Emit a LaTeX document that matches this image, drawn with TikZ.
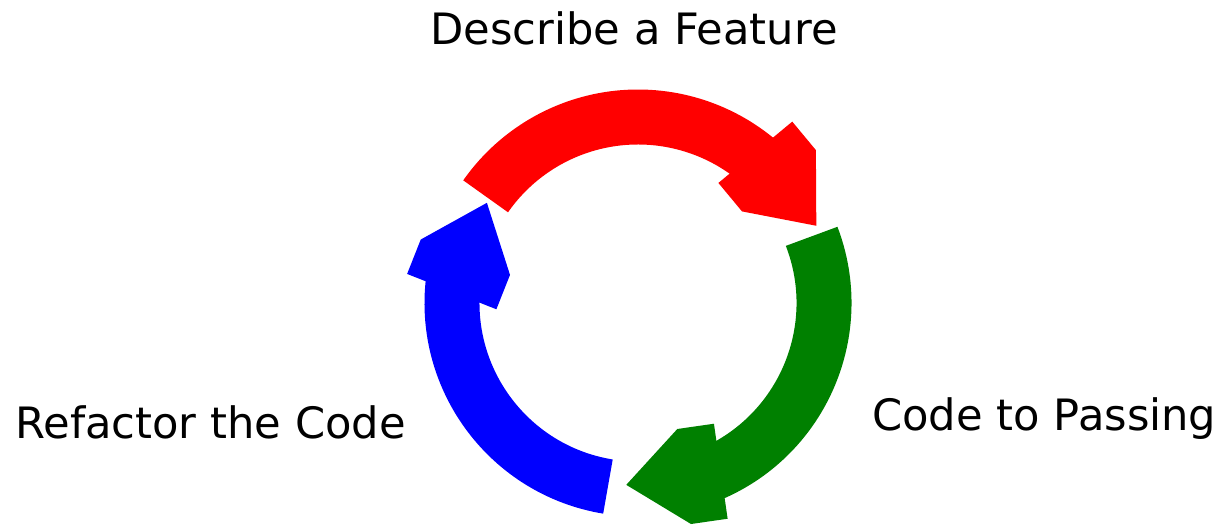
\documentclass[tikz,border=0pt]{standalone}
\usepackage{fontspec}
\setmainfont{DejaVu Sans}
\definecolor{passgreen}{RGB}{0,128,0}
\tikzset{
  cyclebody/.style={line width=1.1cm},
  steplabel/.style={inner sep=0pt, font=\fontsize{24.6}{29}\selectfont},
}

\begin{document}
\begin{tikzpicture}[x=0.02cm, y=0.02cm]
    \useasboundingbox (-638,-221) rectangle (592,303);
    % describe
    \draw[cyclebody, red] (145:186) arc[start angle=145, end angle=49.5, radius=186];
    \fill[red, shift={(52.1:191)}, rotate=-50.3]
      (0,48) -- (37,48) -- (95.5,0) -- (37,-48) -- (0,-48) -- cycle;
    % passing
    \draw[cyclebody, passgreen] (21:186) arc[start angle=21, end angle=-67, radius=186];
    \fill[passgreen, shift={(-63.8:187.5)}, rotate=-171.8]
      (0,48) -- (37,48) -- (95.5,0) -- (37,-48) -- (0,-48) -- cycle;
    % refactor
    \draw[cyclebody, blue] (260.7:186) arc[start angle=260.7, end angle=173.3, radius=186];
    \fill[blue, shift={(176.5:186.6)}, rotate=68.4]
      (0,48) -- (37,48) -- (95.5,0) -- (37,-48) -- (0,-48) -- cycle;
    \node[steplabel, anchor=base] (describe) at (-4,258) {Describe a Feature};
    \node[steplabel, anchor=base west] (passing) at (234,-127) {Code to Passing};
    \node[steplabel, anchor=base west] (refactor) at (-623,-135.5) {Refactor the Code};
  \end{tikzpicture}
\end{document}
